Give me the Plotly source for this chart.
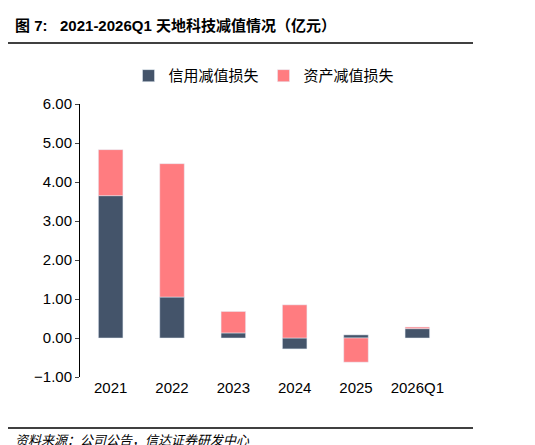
import plotly.graph_objects as go

years = ["2021", "2022", "2023", "2024", "2025", "2026Q1"]
credit_loss = [3.65, 1.05, 0.13, -0.28, 0.08, 0.24]
asset_loss = [1.18, 3.42, 0.55, 0.85, -0.62, 0.04]
y_ticks = [-1, 0, 1, 2, 3, 4, 5, 6]

font = "Liberation Sans, Noto Sans CJK SC, sans-serif"

fig = go.Figure()
fig.add_trace(go.Bar(x=years, y=credit_loss, name="信用减值损失", marker_color="#44546A", width=0.4))
fig.add_trace(go.Bar(x=years, y=asset_loss, name="资产减值损失", marker_color="#FF7C80", width=0.4))

fig.update_layout(
    width=535, height=445,
    barmode="relative",
    plot_bgcolor="white", paper_bgcolor="white",
    margin=dict(l=72, r=95, t=96, b=76),
    font=dict(family=font, size=15, color="black"),
    legend=dict(orientation="h", x=0.5, xanchor="center", y=1.103, yanchor="middle",
                font=dict(size=15), itemwidth=30),
    showlegend=True,
)
fig.update_yaxes(range=[-1, 6], tickvals=y_ticks, tickformat=".2f", showgrid=False,
                 zeroline=False, showline=True, linecolor="black", ticks="outside", ticklen=4)
fig.update_xaxes(showline=False, ticks="", showgrid=False)

fig.add_annotation(text="<b>图 7:   2021-2026Q1 天地科技减值情况（亿元）</b>", xref="paper", yref="paper",
                   x=-0.182, y=1.286, xanchor="left", yanchor="middle", showarrow=False,
                   font=dict(size=15))
fig.add_annotation(text="<i>资料来源：公司公告，信达证券研发中心</i>", xref="paper", yref="paper",
                   x=-0.182, y=-0.231, xanchor="left", yanchor="middle", showarrow=False,
                   font=dict(size=13))
for yy in (1.223, -0.187):
    fig.add_shape(type="line", xref="paper", yref="paper", x0=-0.196, x1=1.068, y0=yy, y1=yy,
                  line=dict(color="black", width=1.5))

fig.write_html("out.html")
